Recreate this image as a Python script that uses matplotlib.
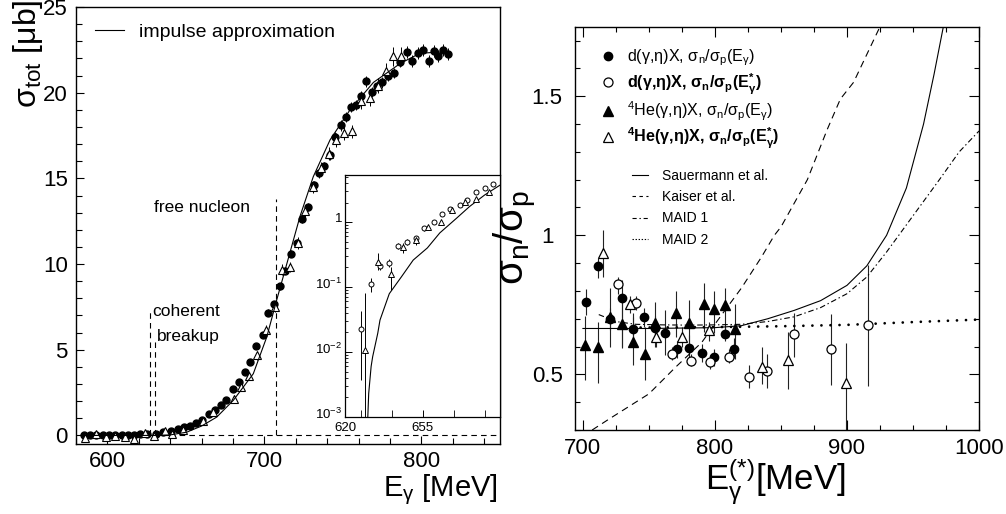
import numpy as np
import matplotlib
matplotlib.use('Agg')
import matplotlib.pyplot as plt
from matplotlib.lines import Line2D
from matplotlib.transforms import ScaledTranslation
from matplotlib.ticker import MultipleLocator, FixedLocator, FixedFormatter, LogLocator, NullFormatter

plt.rcParams['font.family'] = ['Liberation Sans', 'DejaVu Sans']
plt.rcParams['mathtext.fontset'] = 'custom'
plt.rcParams['mathtext.rm'] = 'Liberation Sans'
plt.rcParams['mathtext.it'] = 'Liberation Sans:italic'
plt.rcParams['mathtext.bf'] = 'Liberation Sans:bold'
plt.rcParams['lines.scale_dashes'] = False

# ---------------- left panel: total cross section ----------------
d_E = [585, 589, 593, 597, 601, 605, 609, 613, 617, 621, 625, 631, 635.7, 640.6, 644.9, 648.7,
       652.3, 656.6, 660.4, 664.5, 668.3, 672.1, 675.7, 680, 683.8, 687.4, 691, 694.8, 698.8,
       702.3, 706.2, 709.6, 713.4, 717.1, 720.8, 724, 727.6, 731.4, 734.6, 737.8, 741.7, 744.8,
       748.5, 751.7, 755.3, 758.5, 761.7, 764.9, 768.3, 771.9, 775.1, 778.7, 782.5, 786.3,
       790.6, 793.8, 797.8, 801.2, 804.8, 808, 810.8, 813.8, 816.6]
d_sig = [0.02, 0.05, 0.03, 0.0, 0.04, 0.02, 0.05, 0.0, 0.03, 0.06, 0.07, 0.06, 0.19, 0.23, 0.39, 0.49,
         0.53, 0.74, 0.92, 1.23, 1.46, 1.75, 2.09, 2.73, 3.12, 3.72, 4.29, 5.2, 5.87,
         7.15, 7.65, 8.7, 9.62, 10.6, 11.23, 12.65, 13.33, 14.6, 15.3, 15.7, 16.35, 17.4,
         18.09, 18.58, 19.16, 19.3, 19.82, 20.66, 20.04, 20.41, 20.6, 20.99, 21.15, 21.77,
         22.36, 21.87, 22.32, 22.47, 21.83, 22.42, 22.12, 22.47, 22.26]
d_err = [0.08, 0.08, 0.08, 0.08, 0.08, 0.08, 0.08, 0.08, 0.08, 0.08, 0.08, 0.08, 0.08, 0.08, 0.08, 0.08,
         0.08, 0.08, 0.1, 0.1, 0.1, 0.1, 0.12, 0.12, 0.12, 0.15, 0.15, 0.15, 0.15,
         0.2, 0.2, 0.2, 0.2, 0.2, 0.25, 0.25, 0.25, 0.25, 0.25, 0.25, 0.3, 0.3,
         0.3, 0.3, 0.3, 0.3, 0.3, 0.3, 0.3, 0.3, 0.3, 0.3, 0.3, 0.3,
         0.35, 0.35, 0.35, 0.35, 0.35, 0.35, 0.35, 0.35, 0.35]

he_E = [586, 593, 599, 605, 611, 617, 624, 629.4, 636.4, 641, 648, 660.9, 667.2, 680.4, 685.2,
        690.4, 695.5, 701.2, 706.5, 711, 716.3, 721.2, 726.1, 731, 735.7, 741, 745.3, 750.6,
        756, 761.2, 767.2, 772.3, 777.2, 782.1, 786.8]
he_sig = [-0.14, 0.1, -0.08, -0.05, -0.12, -0.2, 0.15, -0.06, 0.25, 0.06, 0.33, 0.84, 1.37, 2.14, 2.85,
          3.48, 4.68, 6.14, 7.52, 9.68, 9.82, 11.23, 13.08, 14.5, 15.6, 16.45, 17.25, 17.64,
          17.74, 19.49, 19.69, 20.41, 21.25, 22.12, 22.12]
he_err = [0.12, 0.12, 0.12, 0.12, 0.12, 0.12, 0.12, 0.12, 0.12, 0.12, 0.12, 0.15, 0.15, 0.2, 0.2,
          0.25, 0.25, 0.3, 0.3, 0.3, 0.3, 0.35, 0.35, 0.35, 0.35, 0.4, 0.4, 0.4,
          0.4, 0.45, 0.45, 0.45, 0.5, 0.55, 0.55]

ia_E = [583, 630, 640, 650.5, 660, 669.6, 680.2, 692.9, 701.5, 707.8, 714.2, 722.7, 731.1, 741.8,
        754.5, 769.4, 786.4, 799, 817]
ia_sig = [0.0, 0.0, 0.03, 0.19, 0.55, 1.07, 2.05, 3.6, 5.75, 7.9, 10.0, 12.8, 15.1, 17.25,
          19.0, 20.6, 21.7, 22.3, 22.4]

thr_E = [627.2, 630.0, 707.2]
thr_top = [7.4, 5.5, 13.8]

# ---------------- inset (log scale) ----------------
in_c_E = [627.2, 631.6, 635.8, 639.8, 644, 648, 652, 655.7, 660, 663.8, 667.6, 671.8, 675.2, 679.3, 683, 687]
in_c_v = [0.023, 0.11, 0.21, 0.236, 0.43, 0.50, 0.56, 0.80, 1.0, 1.31, 1.57, 1.83, 2.18, 2.86, 3.3, 3.8]
in_c_lo = [0.0037, 0.085, 0.18, 0.2, 0.38, 0.45, 0.50, 0.74, 0.93, 1.22, 1.48, 1.73, 2.08, 2.72, 3.15, 3.65]
in_c_hi = [0.043, 0.14, 0.24, 0.27, 0.48, 0.55, 0.62, 0.86, 1.07, 1.40, 1.66, 1.93, 2.28, 3.0, 3.45, 3.95]
in_t_E = [629, 634.7, 640.6, 646, 652, 657.5, 663.2, 668.5, 674, 679.3, 684.9]
in_t_v = [0.0107, 0.245, 0.16, 0.41, 0.53, 0.83, 1.0, 1.53, 2.05, 2.26, 2.93]
in_t_lo = [0.0001, 0.18, 0.09, 0.34, 0.45, 0.76, 0.93, 1.44, 1.95, 2.15, 2.8]
in_t_hi = [0.082, 0.33, 0.2, 0.48, 0.6, 0.9, 1.07, 1.62, 2.15, 2.37, 3.06]
in_ia_E = [630.3, 630.7, 631.8, 632.5, 634.8, 635.8, 640, 645.5, 650.8, 657.2, 662.8, 670.3, 676.3, 683, 690]
in_ia_v = [0.001, 0.0023, 0.006, 0.0085, 0.0195, 0.031, 0.079, 0.144, 0.26, 0.40, 0.68, 1.14, 1.74, 2.6, 3.7]

# ---------------- right panel: sigma_n / sigma_p ----------------
dE_E = [702.3, 711.4, 720.2, 729.6, 738.0, 746.5, 754.3, 762.4, 771.2, 780.5, 790.3, 799.6, 807.7, 814.8]
dE_v = [0.759, 0.89, 0.698, 0.775, 0.662, 0.705, 0.665, 0.65, 0.59, 0.596, 0.578, 0.561, 0.645, 0.591]
dE_lo = [0.713, 0.845, 0.66, 0.595, 0.60, 0.67, 0.62, 0.57, 0.56, 0.56, 0.545, 0.53, 0.62, 0.56]
dE_hi = [0.806, 0.92, 0.74, 0.84, 0.72, 0.74, 0.71, 0.73, 0.62, 0.64, 0.61, 0.59, 0.67, 0.63]

dS_E = [726.5, 740.4, 767.7, 781.8, 796.6, 810.3, 825.5, 839.3, 860.1, 888.2, 916.1]
dS_v = [0.824, 0.755, 0.575, 0.549, 0.543, 0.563, 0.491, 0.512, 0.645, 0.59, 0.677]
dS_lo = [0.79, 0.73, 0.55, 0.53, 0.52, 0.54, 0.45, 0.45, 0.561, 0.461, 0.458]
dS_hi = [0.85, 0.78, 0.60, 0.575, 0.57, 0.59, 0.533, 0.575, 0.72, 0.717, 0.893]

hE_E = [701.2, 711.4, 720.2, 729.6, 738.3, 747.3, 754.3, 770.7, 780.3, 791.5, 799.6, 807.7, 815.5]
hE_v = [0.605, 0.60, 0.707, 0.681, 0.617, 0.573, 0.684, 0.722, 0.686, 0.752, 0.734, 0.749, 0.662]
hE_lo = [0.48, 0.47, 0.60, 0.60, 0.533, 0.48, 0.60, 0.635, 0.588, 0.653, 0.65, 0.66, 0.557]
hE_hi = [0.71, 0.69, 0.81, 0.76, 0.705, 0.671, 0.76, 0.80, 0.767, 0.83, 0.80, 0.81, 0.753]

hS_E = [715.4, 735.4, 755.3, 774.8, 795.3, 835.8, 855.6, 899.1]
hS_v = [0.937, 0.752, 0.633, 0.635, 0.66, 0.527, 0.551, 0.468]
hS_lo = [0.85, 0.72, 0.60, 0.60, 0.62, 0.465, 0.446, 0.30]
hS_hi = [1.02, 0.78, 0.67, 0.67, 0.69, 0.60, 0.653, 0.611]

sau_E = [700, 750, 800, 820, 840, 860, 880, 900, 915, 930, 945, 958, 966, 973]
sau_v = [0.665, 0.665, 0.668, 0.675, 0.70, 0.73, 0.765, 0.82, 0.89, 1.0, 1.17, 1.40, 1.58, 1.75]
kai_E = [707, 720, 735, 750, 770, 790, 806, 820, 835, 845, 850, 870, 885, 895, 905, 915, 925]
kai_v = [0.30, 0.34, 0.385, 0.43, 0.525, 0.615, 0.72, 0.81, 0.92, 1.0, 1.03, 1.20, 1.38, 1.49, 1.55, 1.65, 1.75]
m1_E = [712, 725, 740, 760, 780, 800, 820, 840, 860, 880, 900, 915, 930, 950, 970, 985, 1000]
m1_v = [0.715, 0.69, 0.68, 0.678, 0.677, 0.678, 0.68, 0.69, 0.707, 0.74, 0.79, 0.85, 0.94, 1.07, 1.20, 1.30, 1.375]
m2_E = [730, 800, 850, 900, 950, 1000]
m2_v = [0.668, 0.670, 0.673, 0.678, 0.688, 0.697]

# =================================================================
W, H = 1006, 514
fig = plt.figure(figsize=(W / 100, H / 100), dpi=100)

def frac(l, t, r, b):
    return [l / W, (H - b) / H, (r - l) / W, (b - t) / H]

LW = 0.8
# ---------- left main ----------
axL = fig.add_axes(frac(76, 7, 500, 444))
axL.set_xlim(580, 850)
axL.set_ylim(-0.5, 25)
axL.errorbar(d_E, d_sig, yerr=d_err, fmt='none', ecolor='black', elinewidth=0.7, zorder=2)
axL.errorbar(he_E, he_sig, yerr=he_err, fmt='none', ecolor='black', elinewidth=0.7, zorder=2)
axL.plot(d_E, d_sig, 'o', ms=5, mfc='black', mec='black', zorder=3)
axL.plot(he_E, he_sig, '^', ms=6, mfc='white', mec='black', mew=0.8, zorder=3)
ia_line, = axL.plot(ia_E, ia_sig, '-', color='black', lw=LW, zorder=4, label='impulse approximation')
axL.hlines(0, 627, 850, colors='black', linestyles=(0, (4, 3)), lw=LW)
axL.vlines(thr_E, 0, thr_top, colors='black', linestyles=(0, (4, 3)), lw=LW)
axL.text(628.5, 7.25, 'coherent', fontsize=12.5, ha='left', va='center')
axL.text(631.7, 5.75, 'breakup', fontsize=12.5, ha='left', va='center')
axL.text(629.8, 13.3, 'free nucleon', fontsize=12.5, ha='left', va='center')
axL.legend(handles=[ia_line], loc='center left', bbox_to_anchor=((95 - 76) / 424, (444 - 32.3) / 437),
           frameon=False, fontsize=14, handlelength=1.5, handletextpad=0.77, borderpad=0, borderaxespad=0)
axL.xaxis.set_major_locator(MultipleLocator(100))
axL.xaxis.set_minor_locator(MultipleLocator(20))
axL.yaxis.set_major_locator(MultipleLocator(5))
axL.yaxis.set_minor_locator(MultipleLocator(1))
axL.tick_params(which='both', direction='in', labelsize=16, top=False, right=False)
axL.tick_params(which='major', length=6, width=0.8)
axL.tick_params(which='minor', length=4, width=0.8)
axL.tick_params(axis='x', pad=5)
axL.tick_params(axis='y', pad=6)
for s in axL.spines.values():
    s.set_linewidth(1.0)
axL.set_ylabel('σ$_\\mathrm{tot}$ [μb]', fontsize=23, loc='top')
axL.yaxis.set_label_coords(-0.073, 1.016)
axL.set_xlabel('E$_\\mathrm{γ}$ [MeV]', fontsize=21, loc='right')
axL.xaxis.set_label_coords(0.995, -0.066)

# ---------- inset ----------
axI = fig.add_axes(frac(345, 175, 500, 417))
axI.set_yscale('log')
axI.set_xlim(620, 690)
axI.set_ylim(1e-3, 5.3)
c_err = [np.subtract(in_c_v, in_c_lo), np.subtract(in_c_hi, in_c_v)]
t_err = [np.subtract(in_t_v, in_t_lo), np.subtract(in_t_hi, in_t_v)]
axI.errorbar(in_c_E, in_c_v, yerr=c_err, fmt='none', ecolor='black', elinewidth=0.7)
axI.errorbar(in_t_E, in_t_v, yerr=t_err, fmt='none', ecolor='black', elinewidth=0.7)
axI.plot(in_c_E, in_c_v, 'o', ms=3.6, mfc='white', mec='black', mew=0.7, zorder=3)
axI.plot(in_t_E, in_t_v, '^', ms=4.2, mfc='white', mec='black', mew=0.7, zorder=3)
axI.plot(in_ia_E, in_ia_v, '-', color='black', lw=LW)
axI.xaxis.set_major_locator(FixedLocator([620, 655]))
axI.xaxis.set_minor_locator(FixedLocator([627, 641, 669, 683]))
axI.yaxis.set_major_locator(FixedLocator([1e-3, 1e-2, 1e-1, 1]))
axI.yaxis.set_major_formatter(FixedFormatter(['$10^{-3}$', '$10^{-2}$', '$10^{-1}$', '1']))
axI.yaxis.set_minor_locator(LogLocator(base=10, subs=np.arange(2, 10), numticks=20))
axI.yaxis.set_minor_formatter(NullFormatter())
axI.tick_params(which='both', direction='in', labelsize=9.5, top=False, right=False)
axI.tick_params(which='major', length=5, width=0.7)
axI.tick_params(which='minor', length=2.5, width=0.6)
axI.tick_params(axis='x', which='minor', length=5)
axI.tick_params(axis='x', pad=3.5)
axI.tick_params(axis='y', pad=2)
for s in axI.spines.values():
    s.set_linewidth(0.9)
for lab in axI.get_yticklabels():
    lab.set_transform(lab.get_transform() + ScaledTranslation(0, 3 / 72, fig.dpi_scale_trans))

# ---------- right panel ----------
axR = fig.add_axes(frac(575, 26.7, 979, 430))
axR.set_xlim(694, 1000)
axR.set_ylim(0.3, 1.75)
for E, v, lo, hi in [(dE_E, dE_v, dE_lo, dE_hi), (dS_E, dS_v, dS_lo, dS_hi),
                     (hE_E, hE_v, hE_lo, hE_hi), (hS_E, hS_v, hS_lo, hS_hi)]:
    axR.errorbar(E, v, yerr=[np.subtract(v, lo), np.subtract(hi, v)], fmt='none',
                 ecolor='#222222', elinewidth=0.8, zorder=2)
h1, = axR.plot(dE_E, dE_v, 'o', ms=6, mfc='black', mec='black', zorder=4)
h2, = axR.plot(dS_E, dS_v, 'o', ms=6.5, mfc='white', mec='black', mew=0.9, zorder=4)
h3, = axR.plot(hE_E, hE_v, '^', ms=6.5, mfc='black', mec='black', zorder=4)
h4, = axR.plot(hS_E, hS_v, '^', ms=7.5, mfc='white', mec='black', mew=0.9, zorder=4)
l1, = axR.plot(sau_E, sau_v, '-', color='black', lw=LW, zorder=3)
l2, = axR.plot(kai_E, kai_v, color='black', lw=LW, dashes=(5, 3.5), zorder=3)
l3, = axR.plot(m1_E, m1_v, color='black', lw=LW, dashes=(4, 2, 1, 2), zorder=3)
l4, = axR.plot(m2_E, m2_v, color='black', lw=2.0, dashes=(0.01, 6.5), dash_capstyle='round', zorder=3)

labs1 = ['d(γ,η)X, σ$_\\mathrm{n}$/σ$_\\mathrm{p}$(E$_\\mathrm{γ}$)',
         'd(γ,η)X, σ$_\\mathbf{n}$/σ$_\\mathbf{p}$(E$_\\mathbf{γ}^{\\mathbf{*}}$)',
         '$^\\mathrm{4}$He(γ,η)X, σ$_\\mathrm{n}$/σ$_\\mathrm{p}$(E$_\\mathrm{γ}$)',
         '$^\\mathbf{4}$He(γ,η)X, σ$_\\mathbf{n}$/σ$_\\mathbf{p}$(E$_\\mathbf{γ}^{\\mathbf{*}}$)']
leg1 = axR.legend([h1, h2, h3, h4], labs1, loc='upper left', bbox_to_anchor=((600.4 - 575) / 404, 1 - 21 / 403.3),
                  frameon=False, fontsize=11.6, handlelength=0.95, handletextpad=0.7, labelspacing=0.2,
                  borderpad=0, borderaxespad=0)
for i in (1, 3):
    leg1.get_texts()[i].set_fontweight('bold')
axR.add_artist(leg1)
axR.legend([l1, Line2D([], [], color='black', lw=LW, dashes=(2.5, 2.5)),
            Line2D([], [], color='black', lw=LW, dashes=(3, 2, 1, 2)),
            Line2D([], [], color='black', lw=LW, dashes=(1, 1.2))],
           ['Sauermann et al.', 'Kaiser et al.', 'MAID 1', 'MAID 2'], loc='upper left',
           bbox_to_anchor=((632 - 575) / 404, 1 - (169 - 26.7) / 403.3), frameon=False, fontsize=10,
           handlelength=1.15, handletextpad=1.0, labelspacing=0.52, borderpad=0, borderaxespad=0)

axR.xaxis.set_major_locator(MultipleLocator(100))
axR.xaxis.set_minor_locator(MultipleLocator(25))
axR.yaxis.set_major_locator(FixedLocator([0.5, 1.0, 1.5]))
axR.yaxis.set_major_formatter(FixedFormatter(['0.5', '1', '1.5']))
axR.yaxis.set_minor_locator(MultipleLocator(0.1))
axR.tick_params(which='both', direction='in', labelsize=16, top=True, right=True)
axR.tick_params(which='major', length=7, width=0.8)
axR.tick_params(which='minor', length=3.5, width=0.8)
axR.tick_params(axis='x', pad=5.5)
axR.tick_params(axis='y', pad=20)
for lab in axR.get_yticklabels():
    lab.set_horizontalalignment('center')
for s in axR.spines.values():
    s.set_linewidth(1.0)
axR.set_ylabel('σ$_\\mathrm{n}$/σ$_\\mathrm{p}$', fontsize=29)
axR.yaxis.set_label_coords(-0.088, 0.478)
axR.set_xlabel('E$_\\mathrm{γ}^\\mathrm{(*)}$[MeV]', fontsize=25)
axR.xaxis.set_label_coords(0.495, -0.067)

fig.savefig('out.png', dpi=100)
